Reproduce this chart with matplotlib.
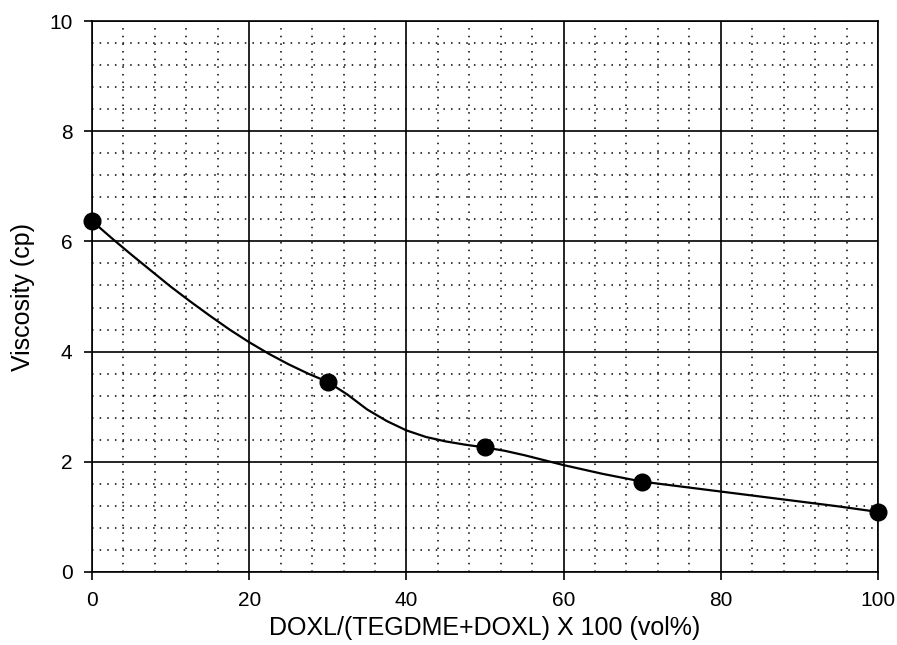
import numpy as np
import matplotlib.pyplot as plt
from matplotlib.ticker import MultipleLocator

plt.rcParams['font.family'] = ['Liberation Sans', 'DejaVu Sans']

# measured points
x_pts = [0, 30, 50, 70, 100]
y_pts = [6.37, 3.45, 2.26, 1.64, 1.09]

# fitted curve
x_curve = [0, 2.5, 5, 7.5, 10, 12.5, 15, 17.5, 20, 22.5, 25, 27.5, 30, 32.5, 35, 37.5, 40,
           42.5, 45, 47.5, 50, 52.5, 55, 57.5, 60, 65, 70, 75, 80, 85, 90, 95, 100]
y_curve = [6.37, 6.06, 5.76, 5.47, 5.18, 4.91, 4.65, 4.40, 4.17, 3.96, 3.77, 3.60, 3.45, 3.22, 2.95, 2.74, 2.57,
           2.45, 2.37, 2.31, 2.26, 2.20, 2.12, 2.03, 1.94, 1.78, 1.64, 1.55, 1.46, 1.37, 1.28, 1.19, 1.09]

fig = plt.figure(figsize=(8.97, 6.45), dpi=100)
ax = fig.add_axes([0.1026, 0.1132, 0.8762, 0.8542])

ax.set_xlim(0, 100)
ax.set_ylim(0, 10)
ax.xaxis.set_major_locator(MultipleLocator(20))
ax.yaxis.set_major_locator(MultipleLocator(2))
ax.xaxis.set_minor_locator(MultipleLocator(4))
ax.yaxis.set_minor_locator(MultipleLocator(0.4))

ax.grid(which='minor', color='black', linestyle=(0, (1, 4)), linewidth=1.1)
ax.grid(which='major', color='black', linestyle='-', linewidth=1.2)
ax.set_axisbelow(True)

ax.plot(x_curve, y_curve, color='black', linewidth=1.6, zorder=3,
        solid_joinstyle='round')
ax.plot(x_pts, y_pts, 'o', color='black', markersize=12, zorder=4, clip_on=False)

for s in ax.spines.values():
    s.set_linewidth(1.2)
ax.tick_params(which='major', direction='out', length=6, width=1.2, labelsize=15, pad=8)
ax.tick_params(which='minor', length=0)

ax.set_xlabel('DOXL/(TEGDME+DOXL) X 100 (vol%)', fontsize=18, labelpad=4)
ax.set_ylabel('Viscosity (cp)', fontsize=18, labelpad=10)

fig.savefig('out.png', dpi=100)
